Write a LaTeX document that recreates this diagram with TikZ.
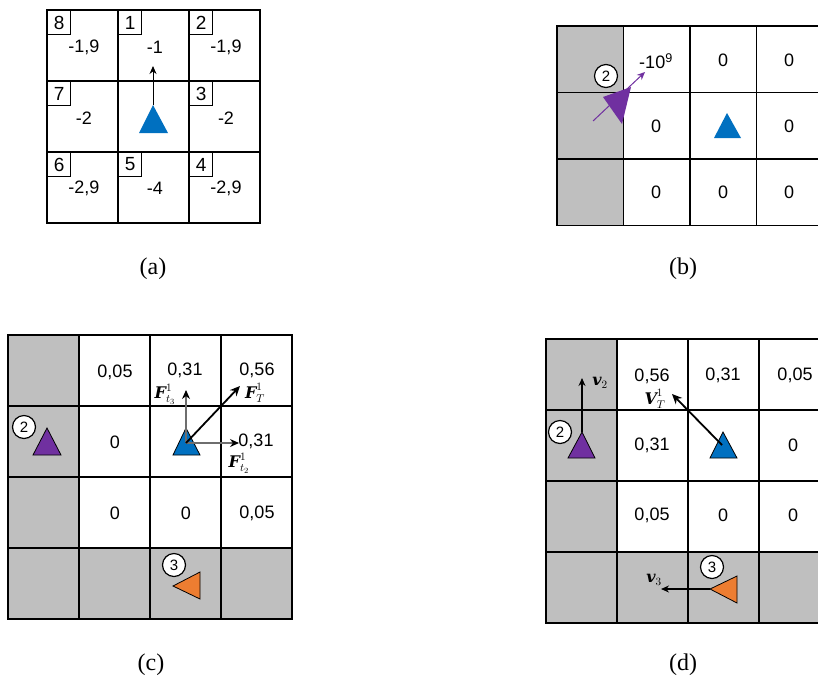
\RequirePackage{fix-cm}
\documentclass[tikz,border=0pt]{standalone}
\usepackage{amsmath}
\usepackage{fontspec}
\usetikzlibrary{arrows.meta}
\newfontfamily\arialf{Liberation Sans}
\newfontfamily\captf{Liberation Serif}
\newfontfamily\djs{DejaVu Serif}
\definecolor{cellgrey}{RGB}{191,191,191}
\definecolor{tblue}{RGB}{0,112,192}
\definecolor{tpurple}{RGB}{112,48,160}
\definecolor{torange}{RGB}{237,125,49}
\definecolor{arrgrey}{RGB}{110,110,110}
\newcommand{\blet}[1]{\mbox{\djs\bfseries\itshape #1}}
\tikzset{
  cellval/.style={font=\arialf\fontsize{18}{20}\selectfont, inner sep=0pt},
  capt/.style={font=\captf\fontsize{24}{28}\selectfont, inner sep=0pt},
  gridline/.style={line width=1.6pt},
  numbox/.style={draw, line width=1.1pt, fill=white, minimum width=23pt, minimum height=24pt, inner sep=0pt, anchor=north west, font=\arialf\fontsize{19}{20}\selectfont},
  circ/.style={circle, draw, line width=1.2pt, fill=white, minimum size=23pt, inner sep=0pt, font=\arialf\fontsize{15}{16}\selectfont},
  mathlab/.style={font=\fontsize{16}{18}\selectfont, inner sep=0pt},
  tri/.style={draw=black, line width=0.8pt},
  thinarr/.style={line width=1pt, -{Stealth[length=8pt,width=7pt]}},
  greyarr/.style={draw=arrgrey, line width=1.1pt, -{Stealth[length=9pt,width=8pt,color=black]}},
  thickarr/.style={line width=1.8pt, -{Stealth[length=10pt,width=9pt]}},
}
\begin{document}
\begin{tikzpicture}[x=1pt,y=-1pt]
\useasboundingbox (0,0) rectangle (818,689);
\fill[white] (0,0) rectangle (818,689);

% ---------------- (a) ----------------
\draw[gridline] (47,10) rectangle (260,223);
\foreach \i in {1,2} {
  \draw[gridline] ({47+71*\i},10) -- ({47+71*\i},223);
  \draw[gridline] (47,{10+71*\i}) -- (260,{10+71*\i});
}
\node[numbox] (a8) at (47,10) {8};
\node[numbox] (a1) at (118,10) {1};
\node[numbox] (a2) at (189,10) {2};
\node[numbox] (a7) at (47,81) {7};
\node[numbox] (a3) at (189,81) {3};
\node[numbox] (a6) at (47,152) {6};
\node[numbox] (a5) at (118,152) {5};
\node[numbox] (a4) at (189,152) {4};
\node[cellval] (a8v) at (84,47) {-1,9};
\node[cellval] (a1v) at (155,47) {-1};
\node[cellval] (a2v) at (226,47) {-1,9};
\node[cellval] (a7v) at (84,118) {-2};
\node[cellval] (a3v) at (226,118) {-2};
\node[cellval] (a6v) at (84,188) {-2,9};
\node[cellval] (a5v) at (155,188) {-4};
\node[cellval] (a4v) at (226,188) {-2,9};
\fill[tblue] (139,133) -- (153,105) -- (168,133) -- cycle;
\coordinate (aS) at (153,105);
\coordinate (aE) at (153,66);
\draw[thinarr] (aS) -- (aE);
\node[capt] (capa) at (153,269) {(a)};

% ---------------- (b) ----------------
\begin{scope}
\clip (0,0) rectangle (818,689);
\fill[cellgrey] (557,26) rectangle (623.5,225.5);
\draw[gridline] (557,26) rectangle (823,225.5);
\foreach \i in {1,2,3} \draw[gridline] ({557+66.5*\i},26) -- ({557+66.5*\i},225.5);
\foreach \i in {1,2} \draw[gridline] (557,{26+66.5*\i}) -- (823,{26+66.5*\i});
\end{scope}
\node[cellval] (b01) at (656,61) {-10\textsuperscript{9}};
\node[cellval] (b02) at (723,60) {0};
\node[cellval] (b03) at (789,60) {0};
\node[cellval] (b11) at (656,126) {0};
\node[cellval] (b13) at (789,126) {0};
\node[cellval] (b21) at (656,192) {0};
\node[cellval] (b22) at (723,192) {0};
\node[cellval] (b23) at (789,192) {0};
\fill[tblue] (714,138) -- (727,113) -- (741,138) -- cycle;
\fill[tpurple] (603,97) -- (631,87) -- (622,124) -- cycle;
\coordinate (bS) at (593,121);
\coordinate (bE) at (645,72);
\draw[tpurple, line width=1pt, -{Stealth[length=8pt,width=7pt]}] (bS) -- (bE);
\node[circ] (b2c) at (606,76) {2};
\node[capt] (capb) at (683,269) {(b)};

% ---------------- (c) ----------------
\fill[cellgrey] (8,335) rectangle (79,619);
\fill[cellgrey] (8,548) rectangle (292,619);
\draw[gridline] (8,335) rectangle (292,619);
\foreach \i in {1,2,3} {
  \draw[gridline] ({8+71*\i},335) -- ({8+71*\i},619);
  \draw[gridline] (8,{335+71*\i}) -- (292,{335+71*\i});
}
\node[cellval] (c01) at (115,372) {0,05};
\node[cellval] (c02) at (185,370) {0,31};
\node[cellval] (c03) at (257,370) {0,56};
\node[cellval] (c11) at (115,442) {0};
\node[cellval] (c13) at (256,441) {0,31};
\node[cellval] (c21) at (115,513) {0};
\node[cellval] (c22) at (186,513) {0};
\node[cellval] (c23) at (257,513) {0,05};
\draw[tri, fill=tblue] (173,455) -- (186,428) -- (200,455) -- cycle;
\draw[tri, fill=tpurple] (33,455) -- (47,428) -- (61,455) -- cycle;
\draw[tri, fill=torange] (173,586) -- (200,572) -- (200,599) -- cycle;
\coordinate (cO) at (186,443);
\coordinate (cU) at (186,390);
\coordinate (cR) at (239,443);
\coordinate (cD) at (240,386);
\draw[greyarr] (cO) -- (cU);
\draw[greyarr] (cO) -- (cR);
\draw[thickarr] (cO) -- (cD);
\node[mathlab] (cFt3) at (165,394) {$\blet{F}^{1}_{t_3}$};
\node[mathlab] (cFT) at (255,393) {$\blet{F}^{1}_{T}$};
\node[mathlab] (cFt2) at (239,463) {$\blet{F}^{1}_{t_2}$};
\node[circ] (c2c) at (24,427) {2};
\node[circ] (c3c) at (174,565) {3};
\node[capt] (capc) at (151,665) {(c)};

% ---------------- (d) ----------------
\begin{scope}
\clip (0,0) rectangle (818,689);
\fill[cellgrey] (546,339) rectangle (617,623);
\fill[cellgrey] (546,552) rectangle (830,623);
\draw[gridline] (546,339) rectangle (830,623);
\foreach \i in {1,2,3} {
  \draw[gridline] ({546+71*\i},339) -- ({546+71*\i},623);
  \draw[gridline] (546,{339+71*\i}) -- (830,{339+71*\i});
}
\end{scope}
\node[cellval] (d01) at (652,376) {0,56};
\node[cellval] (d02) at (723,375) {0,31};
\node[cellval] (d03) at (795,375) {0,05};
\node[cellval] (d11) at (652,445) {0,31};
\node[cellval] (d13) at (793,445) {0};
\node[cellval] (d21) at (652,515) {0,05};
\node[cellval] (d22) at (723,515) {0};
\node[cellval] (d23) at (793,515) {0};
\draw[tri, fill=tblue] (710,458) -- (723,432) -- (737,458) -- cycle;
\draw[tri, fill=tpurple] (568,458) -- (582,432) -- (595,458) -- cycle;
\draw[tri, fill=torange] (710,589) -- (737,576) -- (737,603) -- cycle;
\coordinate (dO) at (722,445);
\coordinate (dV) at (672,394);
\draw[thickarr] (dO) -- (dV);
\coordinate (dP) at (582,432);
\coordinate (dPu) at (582,378);
\draw[thinarr, line width=1.1pt] (dP) -- (dPu);
\coordinate (dQ) at (710,589);
\coordinate (dQl) at (661,589);
\draw[thinarr, line width=1.1pt] (dQ) -- (dQl);
\node[mathlab] (dVT) at (655,399) {$\blet{V}^{1}_{T}$};
\node[mathlab] (dv2) at (600,383) {$\blet{v}_{2}$};
\node[mathlab] (dv3) at (654,580) {$\blet{v}_{3}$};
\node[circ] (d2c) at (560,432) {2};
\node[circ] (d3c) at (712,567) {3};
\node[capt] (capd) at (683,665) {(d)};
\end{tikzpicture}
\end{document}
